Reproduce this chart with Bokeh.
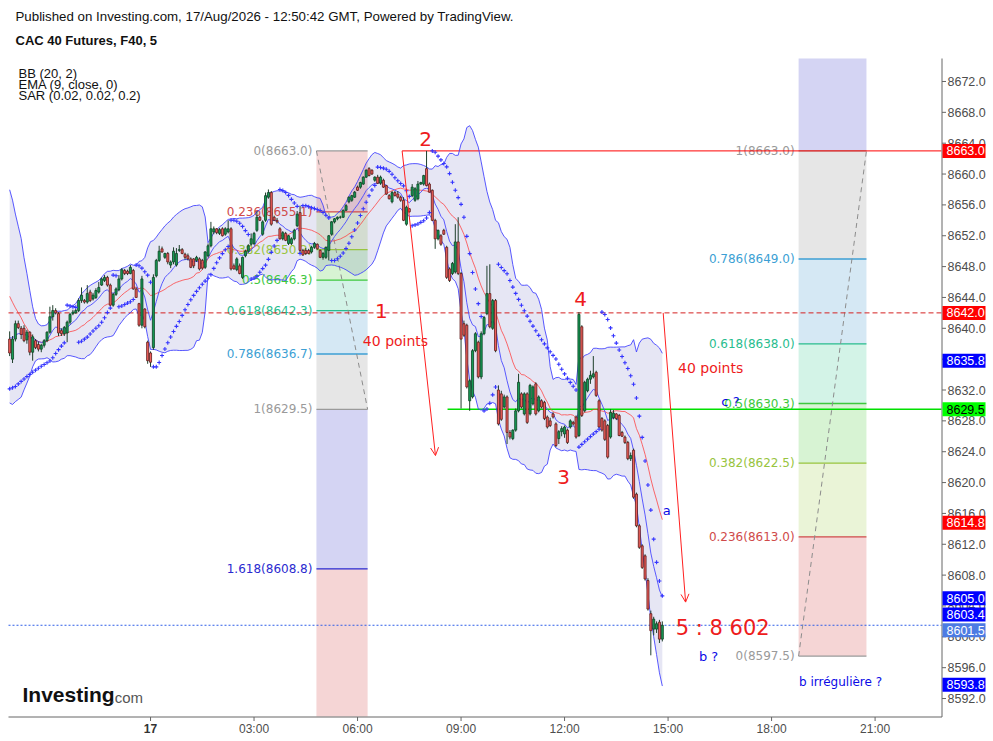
import math
import numpy as np
import pandas as pd
from bokeh.plotting import figure
from bokeh.models import Range1d, Label, Arrow, OpenHead
from bokeh.embed import file_html
from bokeh.resources import INLINE
from bokeh.core.properties import value

# ---------------- data (5-minute candles, bar 0 = 17 Aug 00:00) ----------------
FIRST_BAR = -49

opens = [
    8638.6, 8636.0, 8638.6, 8640.6, 8640.0, 8640.0, 8638.5, 8639.5, 8636.9, 8638.4,
    8637.9, 8637.3, 8637.8, 8638.4, 8639.5, 8641.5, 8642.3, 8641.9, 8639.7, 8639.3,
    8639.4, 8640.8, 8641.9, 8642.0, 8642.3, 8643.6, 8643.6, 8643.4, 8644.7, 8643.8,
    8644.0, 8644.7, 8645.6, 8646.2, 8646.6, 8645.6, 8643.0, 8644.4, 8645.0, 8646.4,
    8647.5, 8647.4, 8647.1, 8647.5, 8645.1, 8643.2, 8640.4, 8642.5, 8638.2, 8636.8,
    8637.5, 8646.8, 8648.8, 8650.3, 8649.2, 8649.7, 8648.2, 8648.6, 8648.2, 8650.1,
    8650.2, 8649.6, 8649.4, 8649.0, 8649.0, 8648.8, 8649.0, 8648.8, 8647.9, 8649.4,
    8650.7, 8652.5, 8652.9, 8652.3, 8652.9, 8652.2, 8652.5, 8652.9, 8648.1, 8647.6,
    8648.1, 8646.6, 8649.4, 8650.0, 8650.9, 8651.0, 8652.7, 8654.4, 8652.2, 8654.0,
    8657.0, 8657.6, 8654.4, 8654.0, 8652.9, 8651.6, 8652.3, 8651.0, 8651.0, 8651.6,
    8653.3, 8655.0, 8650.1, 8650.1, 8650.1, 8649.9, 8650.5, 8650.9, 8650.1, 8649.2,
    8649.2, 8650.1, 8652.2, 8653.8, 8654.2, 8654.4, 8654.4, 8655.3, 8656.4, 8656.6,
    8657.0, 8658.3, 8658.3, 8658.7, 8659.6, 8660.7, 8660.5, 8659.2, 8659.6, 8658.8,
    8659.2, 8658.5, 8657.2, 8656.4, 8657.6, 8657.4, 8657.0, 8656.6, 8653.5, 8655.5,
    8657.2, 8656.6, 8656.8, 8658.7, 8658.7, 8660.7, 8658.7, 8657.9, 8654.0, 8651.6,
    8652.0, 8652.7, 8650.5, 8647.7, 8647.1, 8647.3, 8651.2, 8647.1, 8640.6, 8640.4,
    8630.6, 8631.1, 8637.1, 8638.2, 8633.7, 8639.3, 8641.9, 8644.5, 8640.0, 8643.6,
    8632.0, 8631.5, 8629.8, 8631.1, 8626.5, 8625.7, 8626.8, 8629.3, 8631.5, 8628.9,
    8631.5, 8628.9, 8630.2, 8632.8, 8629.3, 8630.6, 8630.4, 8628.5, 8628.0, 8628.9,
    8627.6, 8625.7, 8626.6, 8626.3, 8626.8, 8627.2, 8627.8, 8628.5, 8626.1, 8640.2,
    8629.3, 8631.9, 8633.4, 8633.7, 8634.3, 8630.6, 8628.3, 8628.0, 8627.4, 8625.9,
    8628.4, 8628.9, 8628.7, 8626.5, 8625.9, 8625.2, 8623.1, 8624.2, 8618.5, 8614.4,
    8611.8, 8610.5, 8607.3, 8603.0, 8601.0, 8601.0, 8601.9, 8599.7,
]
highs = [
    8639.6, 8639.0, 8641.0, 8641.0, 8640.3, 8640.4, 8639.8, 8639.6, 8639.2, 8638.6,
    8638.3, 8638.0, 8638.6, 8639.6, 8642.8, 8643.0, 8642.6, 8642.1, 8640.0, 8640.3,
    8641.0, 8642.0, 8642.4, 8642.5, 8643.9, 8645.3, 8643.8, 8645.6, 8645.0, 8644.6,
    8645.2, 8646.0, 8646.6, 8646.9, 8646.8, 8645.8, 8644.6, 8645.3, 8646.9, 8647.8,
    8647.7, 8647.6, 8648.2, 8647.7, 8645.3, 8643.3, 8646.8, 8642.6, 8638.4, 8637.0,
    8647.0, 8649.0, 8650.7, 8650.6, 8649.8, 8649.9, 8648.8, 8650.5, 8650.4, 8650.8,
    8650.4, 8649.8, 8649.7, 8649.2, 8649.1, 8649.4, 8649.2, 8649.0, 8650.0, 8651.0,
    8653.8, 8653.2, 8653.0, 8653.0, 8653.1, 8653.1, 8654.0, 8653.1, 8648.4, 8649.2,
    8648.4, 8649.3, 8650.2, 8650.9, 8652.3, 8652.5, 8655.2, 8654.6, 8654.0, 8657.6,
    8658.0, 8657.8, 8654.6, 8654.3, 8653.1, 8652.6, 8652.5, 8652.1, 8651.8, 8652.9,
    8655.2, 8655.9, 8650.3, 8650.4, 8650.3, 8650.7, 8651.2, 8651.0, 8650.2, 8649.9,
    8650.6, 8652.1, 8653.9, 8654.3, 8654.5, 8654.6, 8655.4, 8656.1, 8657.1, 8657.3,
    8657.8, 8658.5, 8659.0, 8659.7, 8660.6, 8660.9, 8660.6, 8659.7, 8659.9, 8659.8,
    8659.4, 8658.6, 8657.4, 8657.8, 8657.8, 8657.8, 8657.2, 8657.0, 8655.9, 8655.6,
    8658.7, 8658.3, 8659.1, 8659.0, 8659.9, 8663.0, 8658.9, 8658.0, 8654.2, 8652.8,
    8652.2, 8652.9, 8650.7, 8647.9, 8648.6, 8653.5, 8654.4, 8647.3, 8641.0, 8640.6,
    8633.4, 8637.3, 8639.5, 8638.4, 8639.6, 8641.6, 8648.1, 8648.3, 8643.8, 8643.8,
    8632.6, 8631.9, 8631.4, 8631.3, 8626.8, 8626.9, 8629.6, 8634.1, 8631.7, 8631.7,
    8631.7, 8632.8, 8632.6, 8633.0, 8631.3, 8630.8, 8630.6, 8628.7, 8628.4, 8629.1,
    8627.8, 8626.8, 8627.3, 8627.4, 8627.0, 8628.2, 8628.0, 8628.7, 8642.1, 8640.4,
    8633.2, 8633.6, 8634.5, 8636.4, 8634.5, 8630.8, 8628.5, 8628.2, 8627.6, 8629.5,
    8629.4, 8629.0, 8628.9, 8626.7, 8626.1, 8625.4, 8623.9, 8624.4, 8618.7, 8614.6,
    8612.0, 8610.7, 8607.6, 8603.4, 8602.6, 8602.0, 8602.2, 8602.0,
]
lows = [
    8636.4, 8635.5, 8638.3, 8639.9, 8638.6, 8638.2, 8638.0, 8636.5, 8635.8, 8637.3,
    8637.0, 8636.9, 8637.5, 8638.2, 8639.3, 8641.0, 8641.8, 8639.0, 8639.0, 8639.0,
    8638.2, 8640.5, 8641.7, 8641.9, 8642.1, 8643.3, 8643.2, 8643.2, 8643.4, 8643.6,
    8643.8, 8644.5, 8645.5, 8646.0, 8645.4, 8642.9, 8642.8, 8644.2, 8644.8, 8646.2,
    8646.9, 8646.9, 8647.0, 8645.0, 8644.0, 8640.2, 8640.0, 8640.0, 8635.4, 8635.0,
    8637.2, 8646.6, 8648.6, 8649.8, 8649.0, 8648.3, 8647.8, 8648.3, 8648.0, 8649.9,
    8649.6, 8648.9, 8648.8, 8647.8, 8647.8, 8648.6, 8647.5, 8647.6, 8647.7, 8649.2,
    8650.5, 8652.2, 8652.2, 8652.1, 8651.9, 8652.0, 8652.3, 8647.5, 8647.6, 8647.4,
    8647.0, 8646.4, 8649.2, 8649.8, 8650.7, 8650.8, 8652.5, 8653.9, 8652.0, 8653.8,
    8656.8, 8653.3, 8653.9, 8653.6, 8651.5, 8651.4, 8651.3, 8650.8, 8650.8, 8651.4,
    8653.1, 8649.7, 8649.4, 8649.5, 8649.6, 8649.7, 8650.3, 8650.2, 8649.1, 8648.9,
    8649.0, 8648.8, 8652.0, 8653.6, 8654.0, 8654.2, 8654.3, 8655.2, 8656.2, 8656.4,
    8656.9, 8657.8, 8658.1, 8658.6, 8659.5, 8659.7, 8659.9, 8659.0, 8658.7, 8658.6,
    8658.2, 8657.3, 8656.7, 8656.2, 8657.1, 8656.8, 8656.4, 8653.9, 8653.3, 8655.0,
    8657.0, 8656.4, 8656.6, 8658.6, 8658.5, 8658.4, 8657.6, 8653.9, 8650.3, 8651.4,
    8650.7, 8652.1, 8646.4, 8646.0, 8646.9, 8647.1, 8646.9, 8629.6, 8638.9, 8632.2,
    8629.3, 8630.9, 8636.9, 8633.5, 8633.4, 8639.1, 8641.7, 8640.0, 8639.8, 8636.9,
    8627.4, 8628.0, 8629.6, 8625.0, 8625.6, 8625.5, 8626.6, 8629.1, 8629.6, 8628.7,
    8627.6, 8628.7, 8630.0, 8628.7, 8629.1, 8629.6, 8628.1, 8627.0, 8627.2, 8628.3,
    8624.6, 8625.0, 8626.0, 8625.8, 8625.0, 8627.0, 8627.4, 8625.7, 8625.9, 8628.5,
    8629.1, 8631.7, 8632.8, 8633.5, 8631.1, 8627.0, 8626.6, 8625.4, 8623.1, 8625.7,
    8628.2, 8628.1, 8626.0, 8625.9, 8625.0, 8622.9, 8622.8, 8617.9, 8614.2, 8611.4,
    8608.8, 8607.3, 8603.4, 8597.6, 8600.2, 8600.5, 8599.2, 8599.4,
]
closes = [
    8636.8, 8638.6, 8640.6, 8640.1, 8639.2, 8638.4, 8639.5, 8636.9, 8638.9, 8637.5,
    8637.3, 8637.8, 8638.4, 8639.5, 8641.5, 8642.3, 8642.0, 8639.4, 8639.3, 8640.1,
    8640.8, 8641.8, 8642.1, 8642.3, 8643.6, 8644.3, 8643.4, 8644.5, 8643.6, 8644.3,
    8644.9, 8645.3, 8646.4, 8646.6, 8645.6, 8643.0, 8644.4, 8645.1, 8646.4, 8647.6,
    8647.1, 8647.1, 8647.9, 8645.1, 8644.0, 8640.4, 8646.4, 8640.2, 8635.8, 8635.6,
    8646.6, 8648.8, 8650.0, 8649.9, 8649.7, 8648.6, 8648.6, 8650.0, 8649.7, 8650.2,
    8649.7, 8649.2, 8649.0, 8647.9, 8648.1, 8649.2, 8647.7, 8647.8, 8649.9, 8650.7,
    8652.9, 8652.9, 8652.4, 8652.8, 8652.0, 8652.9, 8652.9, 8647.7, 8647.7, 8649.0,
    8647.1, 8649.2, 8650.0, 8650.7, 8651.6, 8652.3, 8654.4, 8654.0, 8653.8, 8657.2,
    8657.6, 8653.5, 8654.0, 8653.8, 8651.6, 8652.4, 8651.4, 8652.0, 8651.6, 8652.7,
    8654.8, 8650.1, 8649.5, 8649.7, 8649.7, 8650.5, 8651.0, 8650.3, 8649.2, 8649.7,
    8650.5, 8652.0, 8653.8, 8654.2, 8654.4, 8654.4, 8655.3, 8655.9, 8657.0, 8657.2,
    8657.65, 8657.9, 8658.9, 8659.6, 8660.5, 8659.8, 8660.0, 8659.6, 8658.8, 8659.6,
    8658.3, 8657.4, 8656.8, 8657.6, 8657.2, 8657.0, 8656.6, 8654.0, 8655.7, 8655.1,
    8658.3, 8658.1, 8658.7, 8658.9, 8659.8, 8658.5, 8657.65, 8654.0, 8651.6, 8652.7,
    8650.9, 8652.2, 8646.6, 8646.2, 8648.4, 8651.2, 8647.1, 8638.6, 8639.1, 8632.4,
    8633.2, 8637.1, 8639.3, 8633.7, 8639.3, 8641.4, 8644.5, 8640.2, 8643.6, 8637.1,
    8627.6, 8628.2, 8631.1, 8626.5, 8625.9, 8626.8, 8629.3, 8633.0, 8629.8, 8631.5,
    8627.8, 8632.6, 8632.4, 8628.9, 8631.1, 8629.8, 8628.3, 8627.2, 8627.4, 8628.5,
    8624.8, 8626.6, 8627.0, 8627.2, 8625.2, 8628.0, 8627.6, 8625.9, 8641.8, 8628.7,
    8633.0, 8633.4, 8633.9, 8634.1, 8631.3, 8627.2, 8626.8, 8625.6, 8623.3, 8629.1,
    8629.0, 8628.3, 8626.1, 8626.0, 8625.2, 8623.1, 8623.5, 8618.1, 8614.4, 8611.6,
    8609.0, 8607.5, 8603.6, 8600.8, 8602.3, 8601.7, 8599.7, 8601.5,
]
# closes of the 19 bars before the visible window (indicator warm-up, estimated from the band shape)
warmup_closes = [8654.0, 8655.0, 8653.0, 8652.0, 8654.0, 8651.0, 8650.0, 8648.0, 8645.0, 8642.0,
                 8640.0, 8638.0, 8637.0, 8638.0, 8639.0, 8637.0, 8638.0, 8637.0, 8638.0]

tick_bars = [0, 36, 72, 108, 144, 180, 216, 252]
tick_labels = ["17", "03:00", "06:00", "09:00", "12:00", "15:00", "18:00", "21:00"]
price_ticks = list(range(8592, 8673, 4))

fib_ratios = [0, 0.236, 0.382, 0.5, 0.618, 0.786, 1, 1.618, 2.618]
fib_level_colors = ["#9a9a9a", "#cf4a4a", "#98c43e", "#3ec83e", "#28bd8e", "#3c9fd4", "#9a9a9a", "#2a2ad0", "#cf4a4a"]
fib_zone_fills = ["#f5d5d5", "#eaf4d7", "#d7f3d3", "#d3f3e7", "#d5e8f4", "#e6e6e6", "#d4d4f3", "#f5d5d5"]
fib_left = dict(x0=57.7, x1=75.5, p0=8663.0, p1=8629.5)
fib_right = dict(x0=225.4, x1=249.0, p0=8597.5, p1=8663.0)

tag_values = [8663.0, 8642.0, 8635.8, 8629.5, 8614.8, 8605.0, 8603.4, 8601.5, 8593.8]
tag_bg = ["#ff0000", "#ff0000", "#0000ff", "#00ff00", "#ff0000", "#0000ff", "#0000ff", "#4d7be3", "#0000ff"]
tag_fg = ["#ffffff", "#ffffff", "#ffffff", "#000000", "#ffffff", "#ffffff", "#ffffff", "#ffffff", "#ffffff"]
tag_shift_px = [0, 0, 0, 0, 0, 0, 4, 5, 0]

RED = "#ee1c1c"
BLUE = "#0a0ae6"

# ---------------- layout: chart window inside the 993x741 canvas ----------------
W, H = 993, 741
X0_BAR, X1_BAR = -49.4, 275.1          # visible bars
P_TOP, P_BOT = 8674.98, 8589.67         # visible prices
PX_L, PX_R, PX_T, PX_B = 8, 941, 58, 716
SX = (PX_R - PX_L) / (X1_BAR - X0_BAR)  # px per bar
SY = (PX_B - PX_T) / (P_TOP - P_BOT)    # px per point
XL = X0_BAR - PX_L / SX
YT = P_TOP + PX_T / SY


def bx(px):
    return XL + px / SX


def py(px):
    return YT - px / SY


# ---------------- indicators ----------------
n = len(closes)
bars = np.arange(FIRST_BAR, FIRST_BAR + n)
o = np.array(opens); h = np.array(highs); l = np.array(lows); c = np.array(closes)
full = pd.Series(warmup_closes + closes)
basis = full.rolling(20).mean().to_numpy()[-n:]
sd = full.rolling(20).std(ddof=0).to_numpy()[-n:]
upper = basis + 2 * sd
lower = basis - 2 * sd
ema = full.ewm(span=9, adjust=False).mean().to_numpy()[-n:]


def parabolic_sar(hh, ll, start, inc, mx, sar0, ep0, af0):
    out = np.zeros(len(hh))
    result, max_min, acc, below = sar0, ep0, af0, True
    for i in range(len(hh)):
        first = False
        result = result + acc * (max_min - result)
        if below:
            if result > ll[i]:
                first, below = True, False
                result = max(hh[i], max_min); max_min = ll[i]; acc = start
        else:
            if result < hh[i]:
                first, below = True, True
                result = min(ll[i], max_min); max_min = hh[i]; acc = start
        if not first:
            if below and hh[i] > max_min:
                max_min = hh[i]; acc = min(acc + inc, mx)
            elif (not below) and ll[i] < max_min:
                max_min = ll[i]; acc = min(acc + inc, mx)
        if below:
            if i >= 1: result = min(result, ll[i - 1])
            if i >= 2: result = min(result, ll[i - 2])
        else:
            if i >= 1: result = max(result, hh[i - 1])
            if i >= 2: result = max(result, hh[i - 2])
        out[i] = result
    return out


sar = parabolic_sar(h, l, 0.02, 0.02, 0.2, 8632.0, 8639.6, 0.02)

# ---------------- figure ----------------
p = figure(width=W, height=H, x_range=Range1d(XL, bx(W)), y_range=Range1d(py(H), YT),
           output_backend="svg", toolbar_location=None, x_axis_location=None, y_axis_location=None,
           min_border=0, min_border_left=0, min_border_right=0, min_border_top=0, min_border_bottom=0)
p.outline_line_color = None
p.grid.visible = False
p.background_fill_color = "white"
p.border_fill_color = "white"


def fmt(v):
    return f"{math.floor(v * 10 + 0.5) / 10:.1f}"


def clipp(v):
    return min(max(v, P_BOT), P_TOP)


def draw_fib_zones(f):
    prices = [f["p0"] + (f["p1"] - f["p0"]) * r for r in fib_ratios]
    p.quad(left=[f["x0"]] * 8, right=[f["x1"]] * 8,
           top=[clipp(max(a, b)) for a, b in zip(prices[:-1], prices[1:])],
           bottom=[clipp(min(a, b)) for a, b in zip(prices[:-1], prices[1:])],
           fill_color=fib_zone_fills, line_color=None)
    return prices


left_prices = draw_fib_zones(fib_left)
right_prices = draw_fib_zones(fib_right)

# Bollinger band fill
p.varea(x=bars, y1=lower, y2=upper, fill_color="#1a1a9a", fill_alpha=0.11)

for f, prices in ((fib_left, left_prices), (fib_right, right_prices)):
    vis = [i for i, pr in enumerate(prices) if P_BOT < pr < P_TOP]
    p.segment(x0=[f["x0"]] * len(vis), x1=[f["x1"]] * len(vis), y0=[prices[i] for i in vis],
              y1=[prices[i] for i in vis], line_color=[fib_level_colors[i] for i in vis], line_width=1.3)
    p.text(x=[f["x0"]] * len(vis), y=[prices[i] for i in vis],
           text=[f"{fib_ratios[i]:g}({fmt(prices[i])})" for i in vis], x_offset=-4,
           text_align="right", text_baseline="middle", text_color=[fib_level_colors[i] for i in vis],
           text_font=value("DejaVu Sans"), text_font_size="12px")
    p.line([f["x0"], f["x1"]], [f["p0"], f["p1"]], line_color="#8c8c8c", line_dash="5 4", line_width=1)

# horizontal lines
p.segment(x0=[87.5], x1=[X1_BAR], y0=[8663.0], y1=[8663.0], line_color="#ff0000", line_width=1)
p.segment(x0=[103.3], x1=[X1_BAR], y0=[8629.5], y1=[8629.5], line_color="#00e000", line_width=1.5)
p.segment(x0=[X0_BAR], x1=[X1_BAR], y0=[8642.0], y1=[8642.0], line_color="#d42020", line_dash="5 3", line_width=1)
p.segment(x0=[X0_BAR], x1=[X1_BAR], y0=[closes[-1]], y1=[closes[-1]], line_color="#2f5fe8", line_dash="2 2", line_width=1)

# indicator lines
p.line(bars, upper, line_color="#3c3cff", line_width=1, line_alpha=0.85)
p.line(bars, lower, line_color="#3c3cff", line_width=1, line_alpha=0.85)
p.line(bars, basis, line_color="#ff3b3b", line_width=1, line_alpha=0.75)
p.line(bars, ema, line_color="#4a4aff", line_width=1, line_alpha=0.9)

# candles
up = c >= o
p.segment(x0=bars, x1=bars, y0=l, y1=h, line_color="#1f3f2c", line_width=1)
p.vbar(x=bars[up], width=0.72, top=c[up], bottom=o[up], fill_color="#169a55", line_color="#0e4423", line_width=0.8)
p.vbar(x=bars[~up], width=0.72, top=o[~up], bottom=c[~up], fill_color="#f0605b", line_color="#5e1c1c", line_width=0.8)

# SAR
p.scatter(bars, sar, marker="cross", size=4, line_color="#3535ff", line_width=1.1)

# arrows
for xs, ys, xe, ye in ((87.5, 8663.0, 99.1, 8623.5), (178.3, 8642.0, 186.1, 8604.5)):
    p.add_layout(Arrow(end=OpenHead(size=8, line_color="#ff2020", line_width=1),
                       x_start=xs, y_start=ys, x_end=xe, y_end=ye, line_color="#ff2020", line_width=1))

# annotation texts
notes = [
    ("1", 80.3, 8642.2, RED, "20px"), ("2", 95.7, 8664.6, RED, "20px"),
    ("3", 143.7, 8620.7, RED, "20px"), ("4", 149.6, 8643.8, RED, "20px"),
    ("40 points", 85.2, 8638.3, RED, "14px"), ("40 points", 194.8, 8634.9, RED, "14px"),
    ("5 : 8 602", 199.0, 8601.2, RED, "21px"),
    ("a", 179.5, 8616.4, BLUE, "13px"), ("b ?", 194.1, 8597.4, BLUE, "13px"),
    ("c ?", 201.7, 8630.5, BLUE, "13px"), ("b irrégulière ?", 240.0, 8594.2, BLUE, "12px"),
]
for t, x, y, col, sz in notes:
    p.add_layout(Label(x=x, y=y, text=t, text_align="center", text_baseline="middle",
                       text_color=col, text_font="DejaVu Sans", text_font_size=sz))

# ---------------- axes (right price scale, bottom time scale) ----------------
AX = bx(PX_R + 0.5)
AY = py(PX_B + 0.5)
p.segment(x0=[AX], x1=[AX], y0=[P_TOP], y1=[AY], line_color="#666666", line_width=1)
p.segment(x0=[bx(PX_L)], x1=[AX], y0=[AY], y1=[AY], line_color="#666666", line_width=1)
p.segment(x0=[AX] * len(price_ticks), x1=[bx(PX_R + 4.5)] * len(price_ticks), y0=price_ticks, y1=price_ticks,
          line_color="#666666", line_width=1)
p.text(x=[bx(PX_R + 6)] * len(price_ticks), y=price_ticks, text=[f"{t:.1f}" for t in price_ticks],
       text_align="left", text_baseline="middle", text_color="#4d4d4d",
       text_font=value("Liberation Sans"), text_font_size="12.5px")
p.segment(x0=tick_bars, x1=tick_bars, y0=[AY] * len(tick_bars), y1=[py(PX_B + 4.5)] * len(tick_bars),
          line_color="#666666", line_width=1)
p.text(x=tick_bars[1:], y=[py(PX_B + 12)] * (len(tick_bars) - 1), text=tick_labels[1:],
       text_align="center", text_baseline="middle", text_color="#4d4d4d",
       text_font=value("Liberation Sans"), text_font_size="12px")
p.text(x=tick_bars[:1], y=[py(PX_B + 12)], text=tick_labels[:1], text_align="center", text_baseline="middle",
       text_color="#333333", text_font=value("Liberation Sans"), text_font_size="12px", text_font_style="bold")

# price tags on the scale
tag_y = [v - s / SY for v, s in zip(tag_values, tag_shift_px)]
p.quad(left=[bx(PX_R + 1)] * len(tag_values), right=[bx(985)] * len(tag_values),
       top=[y + 7 / SY for y in tag_y], bottom=[y - 7 / SY for y in tag_y],
       fill_color=tag_bg, line_color=None)
p.text(x=[bx(PX_R + 5)] * len(tag_values), y=tag_y, text=[f"{v:.1f}" for v in tag_values],
       text_align="left", text_baseline="middle", text_color=tag_fg,
       text_font=value("Liberation Sans"), text_font_size="12.5px")

# ---------------- header, legend, logo ----------------
p.text(x=[bx(15)], y=[py(16)], text=["Published on Investing.com, 17/Aug/2026 - 12:50:42 GMT, Powered by TradingView."],
       text_align="left", text_baseline="middle", text_color="#111111",
       text_font=value("Liberation Sans"), text_font_size="13.3px")
p.text(x=[bx(15)], y=[py(40)], text=["CAC 40 Futures, F40, 5"], text_align="left", text_baseline="middle",
       text_color="#111111", text_font=value("Liberation Sans"), text_font_size="13px", text_font_style="bold")
legend_lines = ["BB (20, 2)", "EMA (9, close, 0)", "SAR (0.02, 0.02, 0.2)"]
p.text(x=[bx(18)] * 3, y=[py(73), py(84), py(95)], text=legend_lines, text_align="left",
       text_baseline="middle", text_color="#111111", text_font=value("Liberation Sans"), text_font_size="13px")
p.text(x=[bx(22)], y=[py(694)], text=["Investing"], text_align="left", text_baseline="middle",
       text_color="#111111", text_font=value("Liberation Sans"), text_font_size="21px", text_font_style="bold")
p.text(x=[bx(110)], y=[py(697)], text=[".com"], text_align="left", text_baseline="middle",
       text_color="#555555", text_font=value("Liberation Sans"), text_font_size="15px")

open("out.html", "w").write(file_html(p, INLINE))
